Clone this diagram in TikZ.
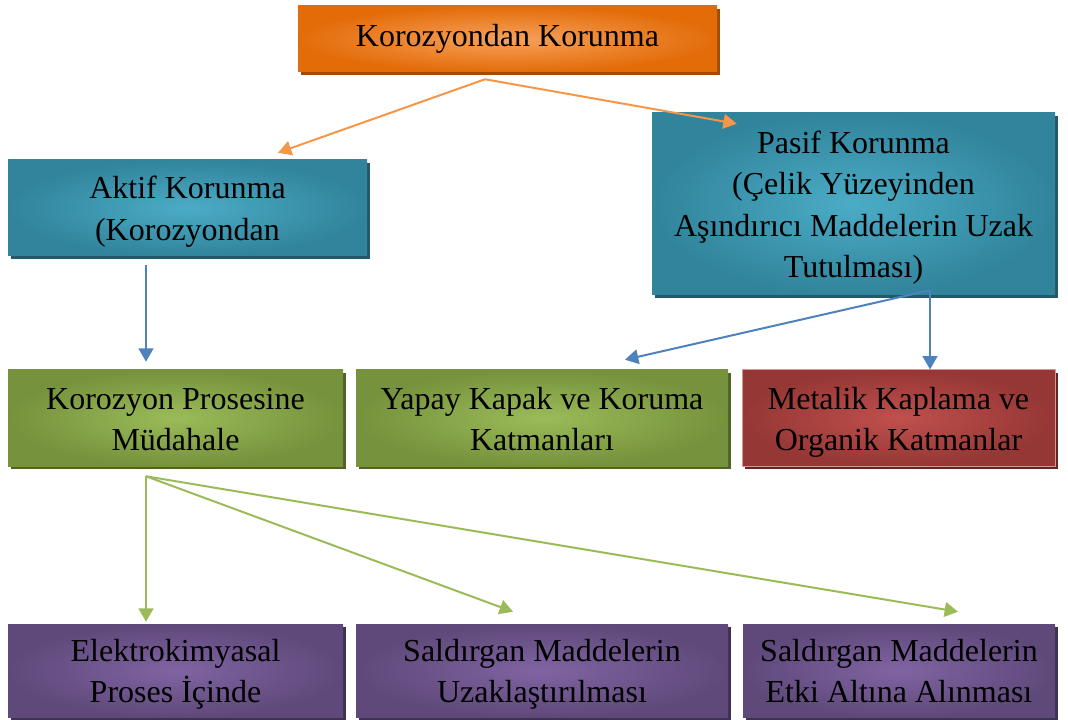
\documentclass[tikz,border=0pt]{standalone}
\usepackage{fontspec}
\setmainfont{Liberation Serif}
\usetikzlibrary{arrows.meta,shadows}

\definecolor{turuncuDis}{HTML}{E36C09}
\definecolor{turuncuIc}{HTML}{F8A15A}
\definecolor{turuncuGolge}{HTML}{A04C08}
\definecolor{maviDis}{HTML}{31849B}
\definecolor{maviIc}{HTML}{4BACC6}
\definecolor{maviGolge}{HTML}{215968}
\definecolor{yesilDis}{HTML}{76923C}
\definecolor{yesilIc}{HTML}{9BBB59}
\definecolor{yesilGolge}{HTML}{4F6228}
\definecolor{kirmiziDis}{HTML}{953735}
\definecolor{kirmiziIc}{HTML}{C0504D}
\definecolor{kirmiziGolge}{HTML}{632523}
\definecolor{kirmiziKenar}{HTML}{DA9694}
\definecolor{morDis}{HTML}{5F497A}
\definecolor{morIc}{HTML}{8064A2}
\definecolor{morGolge}{HTML}{3F3151}
\definecolor{okTuruncu}{HTML}{F79646}
\definecolor{okMavi}{HTML}{4F81BD}
\definecolor{okYesil}{HTML}{9BBB59}

% ilk satir icin sabit yukseklik, son satir icin sabit derinlik
\newcommand{\ustboy}{\rule{0pt}{24pt}}
\newcommand{\altboy}{\rule[-6.5pt]{0pt}{0pt}}

\begin{document}
\begin{tikzpicture}[x=0.75pt, y=-0.75pt,
    kutu/.style={rectangle, inner sep=0pt, align=center, text=black,
        font=\fontsize{24}{31}\selectfont},
    turuncu/.style={kutu, inner color=turuncuIc, outer color=turuncuDis,
        drop shadow={shadow xshift=2.25pt, shadow yshift=-2.25pt, fill=turuncuGolge, opacity=1}},
    mavi/.style={kutu, inner color=maviIc, outer color=maviDis,
        drop shadow={shadow xshift=2.25pt, shadow yshift=-2.25pt, fill=maviGolge, opacity=1}},
    yesil/.style={kutu, inner color=yesilIc, outer color=yesilDis,
        drop shadow={shadow xshift=2.25pt, shadow yshift=-2.25pt, fill=yesilGolge, opacity=1}},
    kirmizi/.style={kutu, inner color=kirmiziIc, outer color=kirmiziDis,
        draw=kirmiziKenar, line width=0.75pt,
        drop shadow={shadow xshift=2.25pt, shadow yshift=-2.25pt, fill=kirmiziGolge, opacity=1}},
    mor/.style={kutu, inner color=morIc, outer color=morDis,
        drop shadow={shadow xshift=2.25pt, shadow yshift=-2.25pt, fill=morGolge, opacity=1}},
    ok/.style={line width=1.5pt, -{Triangle[length=10pt, width=11pt]}}]

    \useasboundingbox (0,0) rectangle (1068,720);

    % ust kutu
    \node[turuncu, minimum width=314.25pt, minimum height=49.5pt] (koruma) at (507.5,39) {Korozyondan Korunma};

    % ikinci satir
    \node[mavi, minimum width=269.25pt, minimum height=72pt] (aktif) at (187.5,208) {\ustboy Aktif Korunma\\(Korozyondan\altboy};
    \node[mavi, minimum width=302.25pt, minimum height=136.5pt] (pasif) at (853.5,204) {\ustboy Pasif Korunma\\(Çelik Yüzeyinden\\Aşındırıcı Maddelerin Uzak\\Tutulması)\altboy};

    % ucuncu satir
    \node[yesil, minimum width=251.25pt, minimum height=72pt] (mudahale) at (175.5,418) {\ustboy Korozyon Prosesine\\Müdahale\altboy};
    \node[yesil, minimum width=279pt, minimum height=72pt] (yapay) at (542,418) {\ustboy Yapay Kapak ve Koruma\\Katmanları\altboy};
    \node[kirmizi, minimum width=234.75pt, minimum height=72pt] (metalik) at (898.5,418) {\ustboy Metalik Kaplama ve\\Organik Katmanlar\altboy};

    % alt satir
    \node[mor, minimum width=251.25pt, minimum height=69.75pt] (elekim) at (175.5,670.5) {\ustboy Elektrokimyasal\\Proses İçinde\altboy};
    \node[mor, minimum width=279pt, minimum height=69.75pt] (uzak) at (542,670.5) {\ustboy Saldırgan Maddelerin\\Uzaklaştırılması\altboy};
    \node[mor, minimum width=234pt, minimum height=69.75pt] (etki) at (899,670.5) {\ustboy Saldırgan Maddelerin\\Etki Altına Alınması\altboy};

    % oklar
    \draw[ok, okTuruncu] ([shift={(-22.5,7)}]koruma.south) -- ([shift={(90.5,-7)}]aktif.north);
    \draw[ok, okTuruncu] ([shift={(-22.5,7)}]koruma.south) -- ([shift={(85,11)}]pasif.north west);

    \draw[ok, okMavi] ([shift={(-41.5,9)}]aktif.south) -- ([shift={(-29.5,-8)}]mudahale.north);
    \draw[ok, okMavi] ([shift={(76.5,-5)}]pasif.south) -- ([shift={(83,-10)}]yapay.north);
    \draw[ok, okMavi] ([shift={(76.5,-5)}]pasif.south) -- ([shift={(31.5,0)}]metalik.north);

    \draw[ok, okYesil] ([shift={(-29.5,10)}]mudahale.south) -- ([shift={(-29.5,-2)}]elekim.north);
    \draw[ok, okYesil] ([shift={(-29.5,10)}]mudahale.south) -- ([shift={(-29,-12)}]uzak.north);
    \draw[ok, okYesil] ([shift={(-29.5,10)}]mudahale.south) -- ([shift={(59,-12)}]etki.north);
\end{tikzpicture}
\end{document}
